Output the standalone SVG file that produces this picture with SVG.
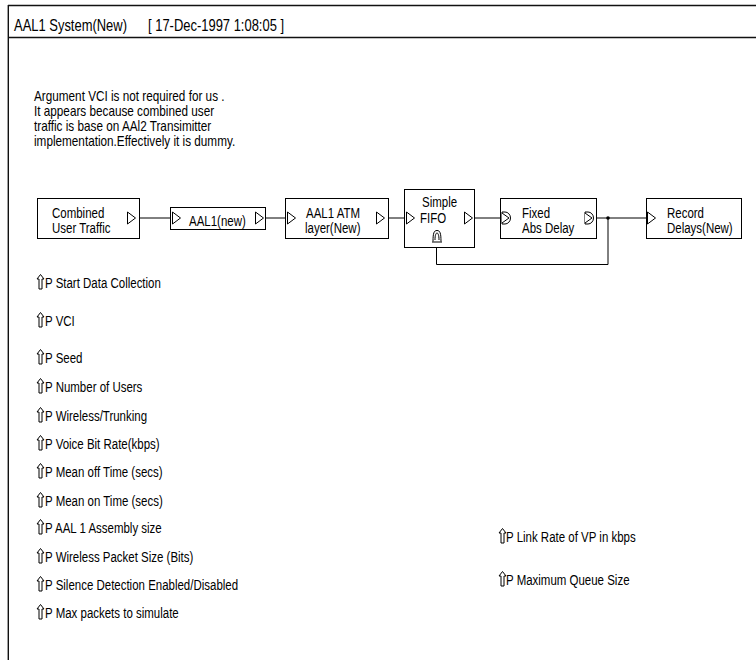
<svg xmlns="http://www.w3.org/2000/svg" width="756" height="660" viewBox="0 0 756 660">
<style>
.t{font-family:"Liberation Sans",Arial,sans-serif;font-size:14px;fill:#000}
.h{font-family:"Liberation Sans",Arial,sans-serif;font-size:16px;fill:#000}
.box{fill:#fff;stroke:#000;stroke-width:1}
.port{fill:#fff;stroke:#000;stroke-width:1;stroke-linejoin:miter}
.wire{fill:none;stroke:#000;stroke-width:1}
.frame{fill:none;stroke:#111;stroke-width:1.4}
</style>
<defs>
<path id="tri" class="port" d="M0,-6 L8,0 L0,6 Z"/>
<g id="dport">
<path class="port" d="M0,-6 L3,-6 A5.5,6 0 0 1 3,6 L0,6 Z"/>
<path class="port" d="M0,-5 L7,0 L0,5" fill="none"/>
</g>
<path id="uparr" fill="none" stroke="#000" stroke-width="1" d="M3.5,0.5 L7,5 L5,5 L5,15 L2,15 L2,5 L0,5 Z"/>
</defs>
<rect x="0" y="0" width="756" height="660" fill="#fff"/>
<g id="frame">
<line class="frame" x1="8" y1="5.5" x2="756" y2="5.5"/>
<line class="frame" x1="8" y1="37.5" x2="756" y2="37.5"/>
<line class="frame" x1="8.3" y1="5" x2="8.3" y2="660"/>
<text class="h" transform="translate(14,30.5) scale(0.81,1)">AAL1 System(New)</text>
<text class="h" transform="translate(148,30.5) scale(0.81,1)">[ 17-Dec-1997 1:08:05 ]</text>
</g>
<g id="note">
<text class="t" transform="translate(34,101) scale(0.84,1)">Argument VCI is not required for us .</text>
<text class="t" transform="translate(34,116) scale(0.84,1)">It appears because combined user</text>
<text class="t" transform="translate(34,131) scale(0.84,1)">traffic is base on AAl2 Transimitter</text>
<text class="t" transform="translate(34,146) scale(0.84,1)">implementation.Effectively it is dummy.</text>
</g>
<g id="connectors">
<line class="wire" x1="139.5" y1="218" x2="170.5" y2="218"/>
<line class="wire" x1="265.5" y1="218" x2="285.5" y2="218"/>
<line class="wire" x1="388.5" y1="218" x2="404.5" y2="218"/>
<line class="wire" x1="474.5" y1="218" x2="500.5" y2="218"/>
<line class="wire" x1="596.5" y1="218" x2="646.5" y2="218"/>
<polyline class="wire" points="436.5,247.5 436.5,264.5 608,264.5 608,218"/>
<circle cx="608" cy="218" r="1.8" fill="#000"/>
</g>
<g id="combined">
<rect class="box" x="37.5" y="198.5" width="102" height="40"/>
<use href="#tri" x="127.5" y="218"/>
<text class="t" transform="translate(52,217.5) scale(0.82,1)">Combined</text>
<text class="t" transform="translate(52,232.5) scale(0.82,1)">User Traffic</text>
</g>
<g id="aal1new">
<rect class="box" x="170.5" y="207.5" width="95" height="22"/>
<use href="#tri" x="172.5" y="218"/>
<use href="#tri" x="255.5" y="218"/>
<text class="t" transform="translate(189,225.5) scale(0.82,1)">AAL1(new)</text>
</g>
<g id="aal1atm">
<rect class="box" x="285.5" y="198.5" width="103" height="40"/>
<use href="#tri" x="287.5" y="218"/>
<use href="#tri" x="376.5" y="218"/>
<text class="t" transform="translate(306,217.5) scale(0.82,1)">AAL1 ATM</text>
<text class="t" transform="translate(305,232.5) scale(0.82,1)">layer(New)</text>
</g>
<g id="fifo">
<rect class="box" x="404.5" y="189.5" width="70" height="58"/>
<use href="#tri" x="406.5" y="218"/>
<use href="#tri" x="464.5" y="218"/>
<text class="t" transform="translate(422,207) scale(0.82,1)">Simple</text>
<text class="t" transform="translate(420,223) scale(0.82,1)">FIFO</text>
<path fill="none" stroke="#000" stroke-width="1" d="M433,241.5 C433,233 434,230.5 437,230.5 C440,230.5 441,233 441,241.5 M432,242 L442,242 M435,240 C435,235 436,233 437,233 C438,233 439,235 439,240"/>
</g>
<g id="fixeddelay">
<rect class="box" x="500.5" y="198.5" width="96" height="40"/>
<use href="#dport" x="502" y="218"/>
<use href="#dport" x="585" y="218"/>
<text class="t" transform="translate(522,217.5) scale(0.82,1)">Fixed</text>
<text class="t" transform="translate(522,232.5) scale(0.82,1)">Abs Delay</text>
</g>
<g id="recorddelays">
<rect class="box" x="646.5" y="198.5" width="95" height="40"/>
<use href="#tri" x="647.5" y="218"/>
<text class="t" transform="translate(667,217.5) scale(0.82,1)">Record</text>
<text class="t" transform="translate(667,232.5) scale(0.82,1)">Delays(New)</text>
</g>
<g id="params">
<g id="p-start"><use href="#uparr" x="37" y="274"/><text class="t" transform="translate(45,288) scale(0.82,1)">P Start Data Collection</text></g>
<g id="p-vci"><use href="#uparr" x="37" y="312"/><text class="t" transform="translate(45,326) scale(0.82,1)">P VCI</text></g>
<g id="p-seed"><use href="#uparr" x="37" y="349"/><text class="t" transform="translate(45,363) scale(0.82,1)">P Seed</text></g>
<g id="p-users"><use href="#uparr" x="37" y="378"/><text class="t" transform="translate(45,392) scale(0.82,1)">P Number of Users</text></g>
<g id="p-wireless"><use href="#uparr" x="37" y="407"/><text class="t" transform="translate(45,421) scale(0.82,1)">P Wireless/Trunking</text></g>
<g id="p-voice"><use href="#uparr" x="37" y="435"/><text class="t" transform="translate(45,449) scale(0.82,1)">P Voice Bit Rate(kbps)</text></g>
<g id="p-off"><use href="#uparr" x="37" y="463"/><text class="t" transform="translate(45,477) scale(0.82,1)">P Mean off Time (secs)</text></g>
<g id="p-on"><use href="#uparr" x="37" y="492"/><text class="t" transform="translate(45,506) scale(0.82,1)">P Mean on Time (secs)</text></g>
<g id="p-aal1"><use href="#uparr" x="37" y="519"/><text class="t" transform="translate(45,533) scale(0.82,1)">P AAL 1 Assembly size</text></g>
<g id="p-packet"><use href="#uparr" x="37" y="548"/><text class="t" transform="translate(45,562) scale(0.82,1)">P Wireless Packet Size (Bits)</text></g>
<g id="p-silence"><use href="#uparr" x="37" y="576"/><text class="t" transform="translate(45,590) scale(0.82,1)">P Silence Detection Enabled/Disabled</text></g>
<g id="p-max"><use href="#uparr" x="37" y="604"/><text class="t" transform="translate(45,618) scale(0.82,1)">P Max packets to simulate</text></g>
<g id="p-link"><use href="#uparr" x="499" y="528"/><text class="t" transform="translate(506,542) scale(0.82,1)">P Link Rate of VP in kbps</text></g>
<g id="p-queue"><use href="#uparr" x="499" y="571"/><text class="t" transform="translate(506,585) scale(0.82,1)">P Maximum Queue Size</text></g>
</g>
</svg>
